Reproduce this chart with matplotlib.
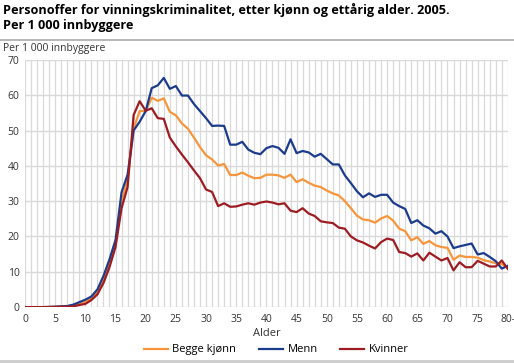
import numpy as np
import matplotlib
matplotlib.use("Agg")
import matplotlib.pyplot as plt
from matplotlib.lines import Line2D

plt.rcParams['font.family'] = ['Open Sans', 'DejaVu Sans']

# Age 0 .. 80 (last group "80-")
ages = np.arange(0, 81)
x_ticks = list(range(0, 81, 5))
x_ticklabels = [str(a) for a in range(0, 80, 5)] + ["80-"]
y_ticks = list(range(0, 71, 10))

begge = [0, 0, 0, 0, 0.05, 0.1, 0.15, 0.25, 0.5, 1.0,
         1.5, 2.4, 4.2, 7.8, 12.3, 18, 30, 36, 50.5, 55.5,
         55.5, 59.3, 58.4, 59.1, 55.3, 54.3, 52, 50.5, 48, 45.3,
         43, 41.8, 40.1, 40.5, 37.4, 37.4, 38.1, 37.2, 36.5, 36.6,
         37.5, 37.5, 37.3, 36.6, 37.5, 35.4, 36.2, 35.2, 34.4, 34,
         33, 32.2, 31.6, 30, 28, 25.9, 24.8, 24.6, 23.9, 25.1,
         25.8, 24.5, 22.2, 21.5, 18.9, 19.8, 17.9, 18.7, 17.5, 17,
         16.8, 13.4, 14.6, 14.2, 14.2, 14, 13.3, 12.9, 12.4, 12.2,
         11]
menn = [0, 0, 0, 0, 0.05, 0.1, 0.2, 0.3, 0.7, 1.4,
        2.1, 3, 5, 8.8, 13.5, 19, 32.5, 37.5, 50, 52.5,
        55.5, 62, 62.8, 64.9, 61.8, 62.6, 59.9, 59.9, 57.5, 55.5,
        53.5, 51.3, 51.4, 51.3, 46, 46, 46.8, 44.6, 43.7, 43.3,
        45, 45.6, 45.1, 43.4, 47.5, 43.6, 44.2, 43.8, 42.6, 43.4,
        41.9, 40.4, 40.4, 37.3, 35.1, 32.8, 31.1, 32.2, 31.2, 31.8,
        31.8, 29.6, 28.6, 27.8, 23.8, 24.6, 23.1, 22.3, 20.8, 21.5,
        20, 16.7, 17.2, 17.6, 18, 14.9, 15.3, 14.2, 13, 10.9,
        11.7]
kvinner = [0, 0, 0, 0, 0, 0.05, 0.1, 0.15, 0.2, 0.6,
           0.9, 2, 3.6, 6.8, 11.3, 17, 28, 34, 54.4, 58.3,
           55.6, 56.3, 53.5, 53.3, 48, 45.5, 43.2, 41, 38.7, 36.5,
           33.3, 32.6, 28.6, 29.4, 28.4, 28.5, 29, 29.4, 29, 29.6,
           29.9, 29.6, 29.1, 29.4, 27.3, 26.9, 28, 26.5, 25.8, 24.3,
           24, 23.8, 22.5, 22.2, 20, 18.9, 18.3, 17.4, 16.6, 18.4,
           19.4, 19, 15.6, 15.3, 14.3, 15.2, 13.2, 15.4, 14.3, 13.2,
           13.9, 10.4, 12.7, 11.3, 11.3, 13.1, 12.3, 11.5, 11.5, 13.2,
           10.8]

series = [("Begge kjønn", begge, "#f7953b"),
          ("Menn", menn, "#1b3c8c"),
          ("Kvinner", kvinner, "#9c1c22")]

fig = plt.figure(figsize=(5.14, 3.63), dpi=100)
ax = fig.add_axes([0.0486, 0.154, 0.9394, 0.681])

grid_col = "#d9d9d9"
for a in ages:
    ax.axvline(a, color=grid_col, lw=0.9, zorder=0)
for v in y_ticks:
    ax.axhline(v, color=grid_col, lw=1.0, zorder=0)

for name, vals, col in series:
    ax.plot(ages, vals, color=col, lw=1.6, label=name, zorder=3)

ax.set_xlim(0, 80)
ax.set_ylim(0, 70)
ax.set_xticks(x_ticks)
ax.set_xticklabels(x_ticklabels)
ax.set_yticks(y_ticks)
ax.tick_params(length=0, labelsize=7.5, colors="#333333", pad=5)
ax.tick_params(axis="y", pad=4)
for s in ax.spines.values():
    s.set_visible(False)
ax.set_xlabel("Alder", fontsize=8, color="#333333", labelpad=2)

# Title, header rule and unit text
fig.text(0.006, 0.993, "Personoffer for vinningskriminalitet, etter kjønn og ettårig alder. 2005.\nPer 1 000 innbyggere",
         fontsize=9.1, fontweight="bold", va="top", ha="left", linespacing=1.2)
fig.add_artist(Line2D([0, 1], [0.889, 0.889], color="#aaaaaa", lw=1.2))
fig.text(0.006, 0.866, "Per 1 000 innbyggere", fontsize=7.5, color="#333333", va="center", ha="left")
fig.add_artist(Line2D([0, 1], [0.005, 0.005], color="#cccccc", lw=2))

handles = [Line2D([], [], color=c, lw=1.6) for _, _, c in series]
fig.legend(handles, [n for n, _, _ in series], loc="center", bbox_to_anchor=(0.537, 0.036),
           ncol=3, frameon=False, fontsize=8, handlelength=2.2, columnspacing=2.0, handletextpad=0.4)

fig.savefig("out.png", dpi=100)
